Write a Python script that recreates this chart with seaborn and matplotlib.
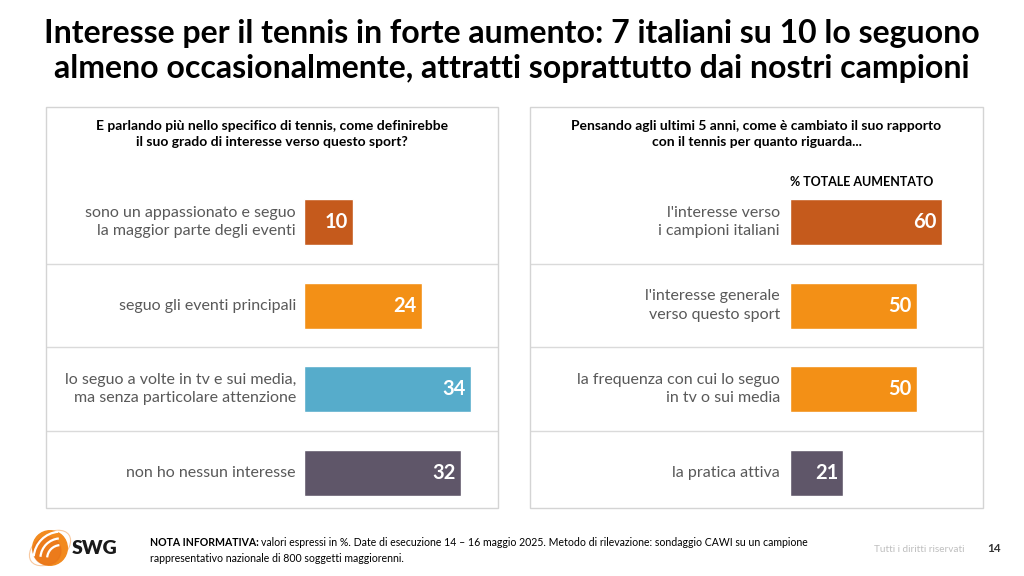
import matplotlib
matplotlib.use("Agg")
import matplotlib.pyplot as plt
import seaborn as sns
from matplotlib.patches import Rectangle, Circle, Arc, Ellipse

sns.set_theme(style="white")
plt.rcParams['font.family'] = ['Lato', 'DejaVu Sans']

# Data
left_labels = ['sono un appassionato e seguo\nla maggior parte degli eventi',
               'seguo gli eventi principali',
               'lo seguo a volte in tv e sui media,\nma senza particolare attenzione',
               'non ho nessun interesse']
left_values = [10, 24, 34, 32]
left_colors = ['#C55A1C', '#F39016', '#56ACCB', '#5F5669']

right_labels = ["l'interesse verso\ni campioni italiani",
                "l'interesse generale\nverso questo sport",
                "la frequenza con cui lo seguo\nin tv o sui media",
                'la pratica attiva']
right_values = [60, 50, 50, 21]
right_colors = ['#C55A1C', '#F39016', '#F39016', '#5F5669']

W, H = 1024, 576
fig = plt.figure(figsize=(W / 100, H / 100), dpi=100)
fig.patch.set_facecolor('white')


def fx(x):
    return x / W


def fy(y):
    return 1 - y / H


# Title
fig.text(0.5, fy(51), 'Interesse per il tennis in forte aumento: 7 italiani su 10 lo seguono\n'
         'almeno occasionalmente, attratti soprattutto dai nostri campioni',
         ha='center', va='center', fontsize=23, fontweight='bold', color='black',
         linespacing=1.22)


def draw_panel(left, right, zero, scale, labels, values, colors, question, label_pad):
    top, bottom = 107, 508
    fig.patches.append(Rectangle((fx(left), fy(bottom)), fx(right - left), (bottom - top) / H,
                                 transform=fig.transFigure, fill=False,
                                 edgecolor='#D4D4D4', lw=1.0))
    fig.text(fx((left + right) / 2), fy(134), question, ha='center', va='center',
             fontsize=10, fontweight='bold', color='black', linespacing=1.3)

    row_h = 83.6
    y0 = 222 - row_h / 2
    y1 = 222 + 3.5 * row_h
    ax = fig.add_axes([fx(left), fy(y1), fx(right - left), (y1 - y0) / H])
    sns.barplot(x=values, y=list(range(len(values))), hue=list(range(len(values))),
                palette=colors, orient='h', width=0.55, legend=False,
                saturation=1, ax=ax)
    ax.set_xlim(-(zero - left) / scale, (right - zero) / scale)
    ax.set_ylim(3.5, -0.5)
    ax.axis('off')
    for yy in [0.5, 1.5, 2.5]:
        ax.axhline(yy, color='#DADADA', lw=1.0)
    for i, (lab, v) in enumerate(zip(labels, values)):
        ax.annotate(lab, (0, i), xytext=(-label_pad, 0), textcoords='offset pixels',
                    ha='right', va='center', fontsize=11.5, color='#595959',
                    linespacing=1.4)
        ax.annotate(str(v), (v, i), xytext=(-5, 0), textcoords='offset pixels',
                    ha='right', va='center', fontsize=14.5, fontweight='bold',
                    color='white')
    return ax


draw_panel(46, 498, 304, 4.9, left_labels, left_values, left_colors,
           'E parlando più nello specifico di tennis, come definirebbe\n'
           'il suo grado di interesse verso questo sport?', 8)
axr = draw_panel(530, 983, 790, 2.53, right_labels, right_values, right_colors,
                 'Pensando agli ultimi 5 anni, come è cambiato il suo rapporto\n'
                 'con il tennis per quanto riguarda...', 10)
fig.text(fx(790), fy(182), '% TOTALE AUMENTATO', ha='left', va='center',
         fontsize=9, fontweight='bold', color='black')

# Footer
logo = fig.add_axes([fx(26), fy(572), fx(48), 48 / H])
logo.set_xlim(-1.25, 1.25)
logo.set_ylim(-1.25, 1.25)
logo.set_aspect('equal')
logo.axis('off')
logo.add_patch(Ellipse((0, 0), 2.4, 1.5, angle=35, fill=False, ec='#F8C9A0', lw=0.8))
logo.add_patch(Circle((0, 0), 0.9, color='#F28A1E'))
logo.add_patch(Circle((-0.15, -0.15), 0.72, color='#E8721A', alpha=0.6))
for r in [0.9, 0.55, 0.2]:
    logo.add_patch(Arc((0.55, -0.55), 2 * r + 1.0, 2 * r + 1.0, angle=0, theta1=95, theta2=175,
                       color='white', lw=1.6))
fig.text(fx(72), fy(549), 'SWG', ha='left', va='center', fontsize=14,
         fontweight='heavy', color='#1A1A1A')

nota = fig.text(fx(150), fy(543), 'NOTA INFORMATIVA:', ha='left', va='center',
                fontsize=7.6, fontweight='bold', color='black')
fig.canvas.draw()
bb = nota.get_window_extent()
fig.text(bb.x1 / W + 0.002, fy(543),
         'valori espressi in %. Date di esecuzione 14 – 16 maggio 2025. Metodo di rilevazione: '
         'sondaggio CAWI su un campione', ha='left', va='center', fontsize=7.6, color='black')
fig.text(fx(150), fy(558), 'rappresentativo nazionale di 800 soggetti maggiorenni.',
         ha='left', va='center', fontsize=7.6, color='black')
fig.text(fx(964), fy(549), 'Tutti i diritti riservati', ha='right', va='center',
         fontsize=7.2, color='#BFBFBF')
fig.text(fx(1001), fy(549), '14', ha='right', va='center', fontsize=8.5,
         fontweight='bold', color='#333333')

fig.savefig('out.png', dpi=100)
